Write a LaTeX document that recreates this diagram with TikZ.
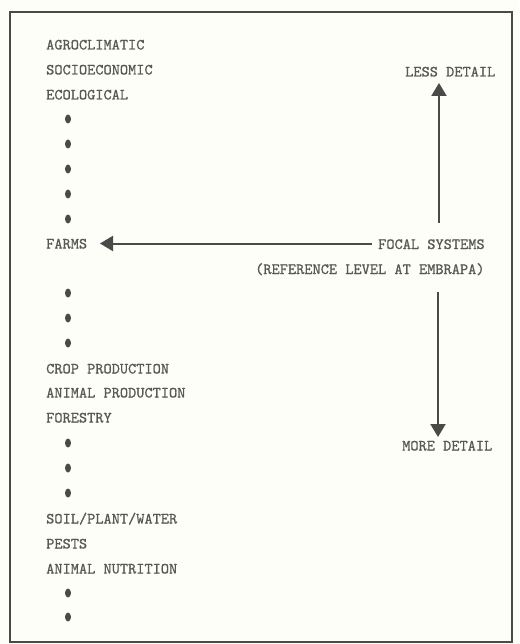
\documentclass[tikz,border=0pt]{standalone}
\usepackage{fontspec}
\newfontfamily\typewriter[FakeBold=0.8]{lmmono10-regular.otf}
\usetikzlibrary{arrows.meta}
\definecolor{ink}{HTML}{585856}
\definecolor{lineink}{HTML}{4A4A48}
\definecolor{paper}{HTML}{FEFEF9}
\tikzset{
  lbl/.style={anchor=base west, inner sep=0pt, text=ink, font=\fontsize{15.6}{17}\typewriter},
  dotmark/.style={fill=lineink, draw=none},
  arr/.style={draw=lineink, line width=2pt, -{Triangle[length=13pt, width=15pt]}},
  frame/.style={draw=lineink, line width=1.6pt}
}
\begin{document}
\begin{tikzpicture}[x=1pt, y=-1pt]
\useasboundingbox (0,0) rectangle (519,644);
\fill[paper] (0,0) rectangle (519,644);
\draw[frame] (10,12) rectangle (512,642);
% left column
\node[lbl] (agro) at (46,49.5) {AGROCLIMATIC};
\node[lbl] (socio) at (46,74.5) {SOCIOECONOMIC};
\node[lbl] (eco) at (46,99.5) {ECOLOGICAL};
\foreach \y in {119,144,169,194,219,293,318,343,443,468,493,593,617}
  \fill[dotmark] (68,\y) ellipse [x radius=3, y radius=4.5];
\node[lbl] (farms) at (46,248.5) {FARMS};
\node[lbl] (crop) at (46,373.5) {CROP PRODUCTION};
\node[lbl] (anim) at (46,397.5) {ANIMAL PRODUCTION};
\node[lbl] (forest) at (46,422.5) {FORESTRY};
\node[lbl] (soil) at (46,523.5) {SOIL/PLANT/WATER};
\node[lbl] (pests) at (46,548.5) {PESTS};
\node[lbl] (nutr) at (46,573.5) {ANIMAL NUTRITION};
% right side
\node[lbl] (less) at (405,76.5) {LESS DETAIL};
\node[lbl] (focal) at (378,249) {FOCAL SYSTEMS};
\node[lbl] (ref) at (255,274) {(REFERENCE LEVEL AT EMBRAPA)};
\node[lbl] (more) at (402,450.5) {MORE DETAIL};
\coordinate (upstart) at (439,223);
\coordinate (uptip) at (439,83);
\coordinate (hstart) at (372,243.5);
\coordinate (htip) at (100,243.5);
\coordinate (dnstart) at (438,292);
\coordinate (dntip) at (438,437);
\draw[arr] (upstart) -- (uptip);
\draw[arr] (hstart) -- (htip);
\draw[arr] (dnstart) -- (dntip);
\end{tikzpicture}
\end{document}
